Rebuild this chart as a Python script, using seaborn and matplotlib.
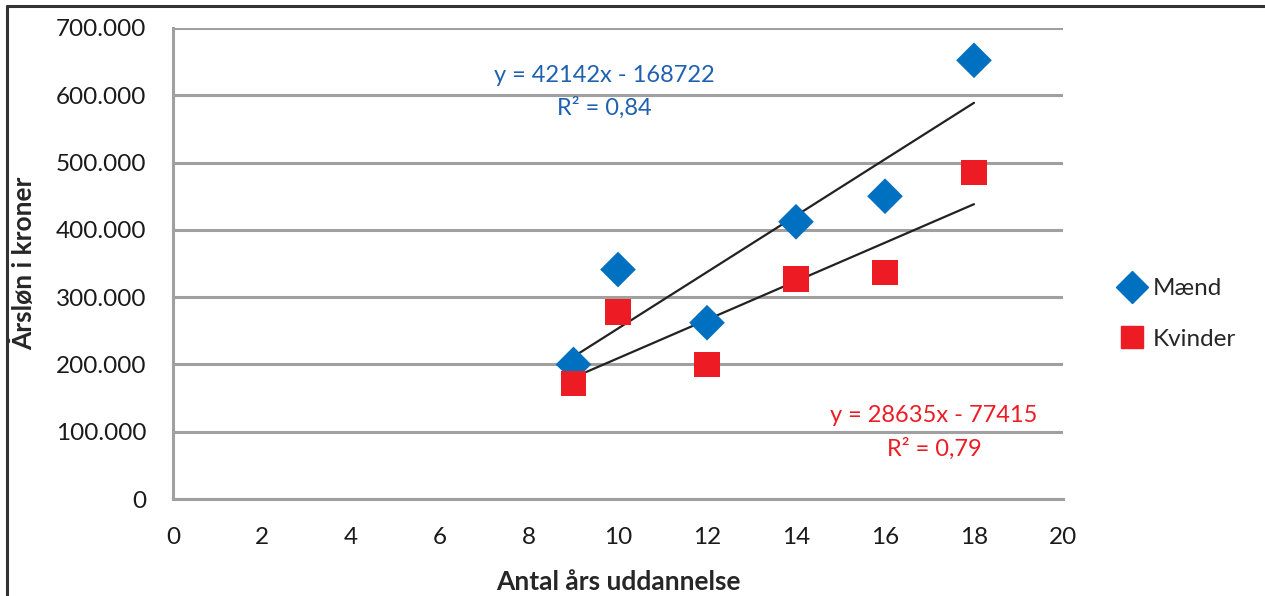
import pandas as pd
import numpy as np
import matplotlib
matplotlib.use("Agg")
import matplotlib.pyplot as plt
import matplotlib.ticker as mticker
from matplotlib.lines import Line2D
import seaborn as sns

# data
years = [9, 10, 12, 14, 16, 18]
maend = [200000, 341000, 262000, 412000, 450000, 652000]
kvinder = [172000, 278000, 200000, 327000, 337000, 485000]
x_ticks = list(range(0, 21, 2))
y_ticks = list(range(0, 700001, 100000))

BLUE = "#0070C0"
RED = "#ED1C24"
GRID = "#A0A0A0"

sns.set_style("white")
plt.rcParams["font.family"] = ["Lato", "DejaVu Sans"]

df = pd.DataFrame({"years": years * 2,
                   "salary": maend + kvinder,
                   "group": ["Mænd"] * len(years) + ["Kvinder"] * len(years)})

fig = plt.figure(figsize=(12.65, 5.96), dpi=100)
ax = fig.add_axes([173 / 1265, 1 - 499 / 596, (1063 - 173) / 1265, (499 - 28) / 596])

# trend lines
for grp in ["Mænd", "Kvinder"]:
    sub = df[df["group"] == grp]
    sns.regplot(data=sub, x="years", y="salary", ax=ax, scatter=False, ci=None,
                truncate=True, color="#222222", line_kws={"linewidth": 1.6, "zorder": 3})

sns.scatterplot(data=df, x="years", y="salary", hue="group", style="group",
                palette={"Mænd": BLUE, "Kvinder": RED},
                markers={"Mænd": "D", "Kvinder": "s"},
                s=330, linewidth=0, ax=ax, zorder=4, legend=False)

ax.set_xlim(0, 20)
ax.set_ylim(0, 700000)
ax.set_xticks(x_ticks)
ax.set_yticks(y_ticks)
ax.yaxis.set_major_formatter(mticker.FuncFormatter(
    lambda v, p: "0" if v == 0 else f"{int(v):,}".replace(",", ".")))
ax.yaxis.grid(True, color=GRID, linewidth=2.2)
ax.set_axisbelow(True)
for side in ["top", "right"]:
    ax.spines[side].set_visible(False)
for side in ["left", "bottom"]:
    ax.spines[side].set_color(GRID)
    ax.spines[side].set_linewidth(2.2)
ax.tick_params(axis="both", which="both", direction="out", length=8, width=2.2,
               color=GRID, labelsize=17.5, labelcolor="#1a1a1a")
ax.tick_params(axis="x", pad=12)
ax.tick_params(axis="y", pad=11)

ax.set_xlabel("Antal års uddannelse", fontsize=19, fontweight="bold", labelpad=16)
ax.set_ylabel("Årsløn i kroner", fontsize=19, fontweight="bold", labelpad=14)

# regression equations
ax.text(9.7, 630000, "y = 42142x - 168722", color="#2060B0", fontsize=17, ha="center", va="center")
ax.text(9.7, 581000, "R² = 0,84", color="#2060B0", fontsize=17, ha="center", va="center")
ax.text(17.1, 124000, "y = 28635x - 77415", color=RED, fontsize=17, ha="center", va="center")
ax.text(17.1, 75000, "R² = 0,79", color=RED, fontsize=17, ha="center", va="center")

handles = [Line2D([], [], marker="D", linestyle="", color=BLUE, markersize=16),
           Line2D([], [], marker="s", linestyle="", color=RED, markersize=16)]
fig.legend(handles, ["Mænd", "Kvinder"], loc="center left", bbox_to_anchor=(1096 / 1265, 1 - 314 / 596),
           frameon=False, fontsize=17.5, handletextpad=0.25, labelspacing=1.2, handlelength=1.2)

# outer frame (top and left)
fig.add_artist(Line2D([7 / 1265, 1], [1 - 6 / 596, 1 - 6 / 596], color="#333333", linewidth=2.2))
fig.add_artist(Line2D([7 / 1265, 7 / 1265], [0, 1 - 6 / 596], color="#333333", linewidth=2.2))

fig.savefig("out.png", dpi=100)
